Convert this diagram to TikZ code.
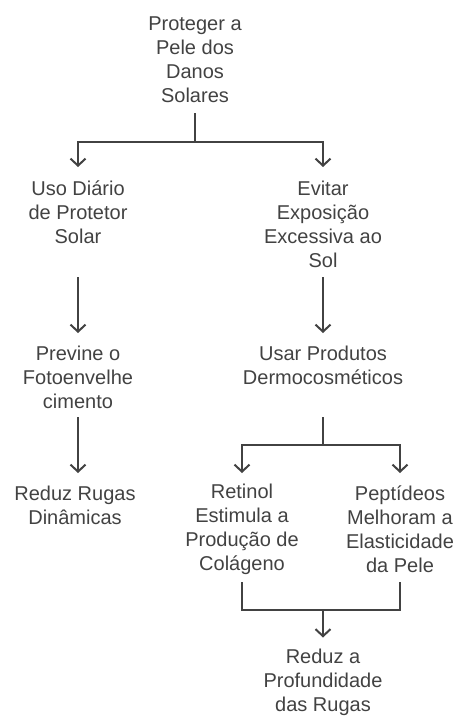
\documentclass[tikz,border=0pt]{standalone}
\usepackage{fontspec}
\setmainfont{Liberation Sans}
\usetikzlibrary{arrows.meta}
\definecolor{ink}{HTML}{424242}
\tikzset{
  lbl/.style={align=center, text=ink, inner sep=0pt,
    font=\fontsize{20pt}{24pt}\selectfont},
  conn/.style={draw=ink, line width=2pt},
  arr/.style={conn, -{Straight Barb[length=7pt,width=15pt]}},
}
\begin{document}
\begin{tikzpicture}[x=1pt,y=-1pt]
\useasboundingbox (0,0) rectangle (472,728);
% nodes
\node[lbl] (top) at (195,60) {Proteger a\\Pele dos\\Danos\\Solares};
\node[lbl] (uso) at (78,212) {Uso Diário\\de Protetor\\Solar};
\node[lbl] (evi) at (323,224) {Evitar\\Exposição\\Excessiva ao\\Sol};
\node[lbl] (prev) at (78,377) {Previne o\\Fotoenvelhe\\cimento};
\node[lbl] (usar) at (323,365) {Usar Produtos\\Dermocosméticos};
\node[lbl] (rrug) at (75,505) {Reduz Rugas\\Dinâmicas};
\node[lbl] (ret) at (242,529) {Retinol\\Estimula a\\Produção de\\Colágeno};
\node[lbl] (pep) at (400,529) {Peptídeos\\Melhoram a\\Elasticidade\\da Pele};
\node[lbl] (prof) at (323,682) {Reduz a\\Profundidade\\das Rugas};
% levels
\coordinate (a0) at (0,113);
\coordinate (a1) at (0,141.5);
\coordinate (a2) at (0,167);
\coordinate (b0) at (0,277);
\coordinate (b1) at (0,333);
\coordinate (c0) at (0,417);
\coordinate (c1) at (0,445);
\coordinate (c2) at (0,473);
\coordinate (d0) at (0,582);
\coordinate (d1) at (0,610);
\coordinate (d2) at (0,637.5);
% connectors
\draw[conn] (top |- a0) -- (top |- a1);
\draw[arr] (top |- a1) -| (uso |- a2);
\draw[arr] (top |- a1) -| (evi |- a2);
\draw[arr] (uso |- b0) -- (prev |- b1);
\draw[arr] (evi |- b0) -- (usar |- b1);
\draw[arr] (prev |- c0) -- (prev |- c2);
\draw[conn] (usar |- c0) -- (usar |- c1);
\draw[arr] (usar |- c1) -| (ret |- c2);
\draw[arr] (usar |- c1) -| (pep |- c2);
\draw[conn] (ret |- d0) |- (prof |- d1) -| (pep |- d0);
\draw[arr] (prof |- d1) -- (prof |- d2);
\end{tikzpicture}
\end{document}
